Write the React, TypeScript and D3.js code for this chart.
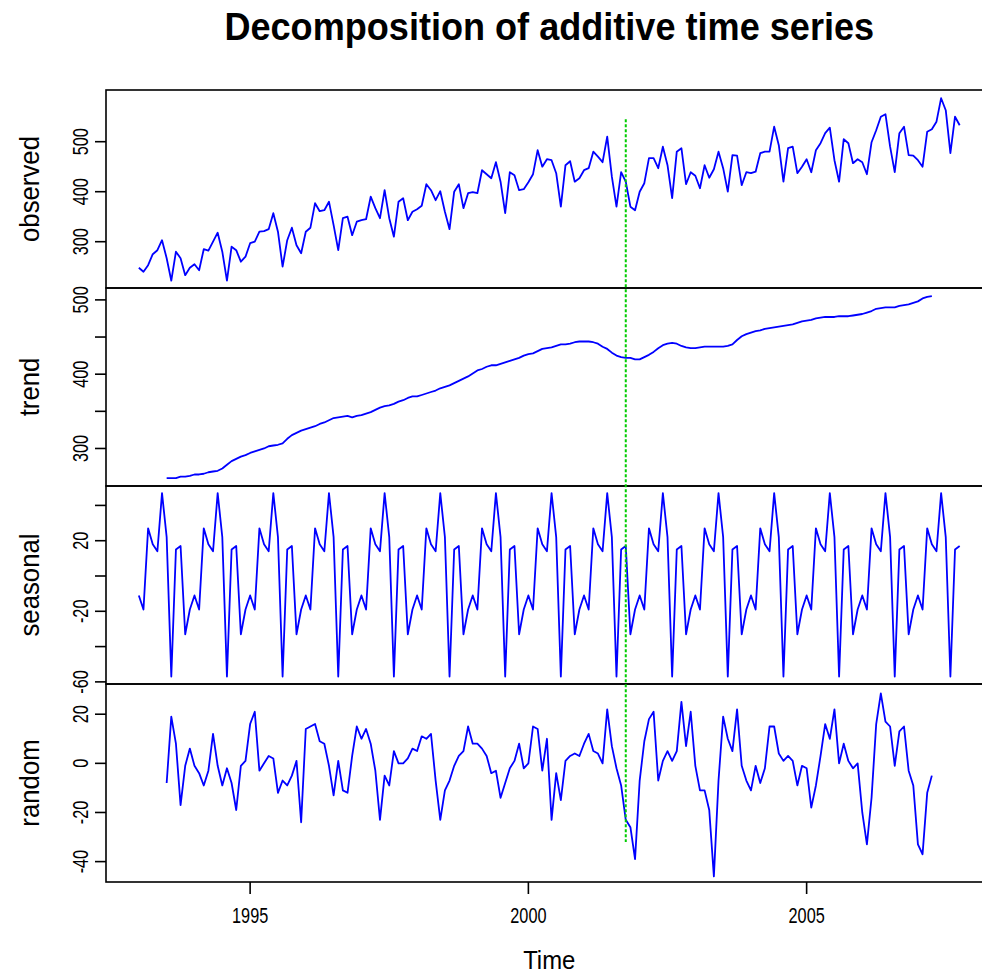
import * as d3 from 'd3'

// Monthly series, January 1993 onwards
const startYear = 1993
const frequency = 12
const chartTitle = 'Decomposition of additive time series'
const xLabel = 'Time'

const observed = [
  248, 240, 253, 275, 283, 303, 267, 222, 280, 267, 233, 248,
  255, 243, 285, 282, 300, 318, 280, 222, 290, 283, 260, 270,
  297, 300, 320, 321, 325, 357, 320, 250, 303, 328, 293, 277,
  320, 328, 377, 361, 363, 380, 333, 283, 347, 350, 313, 340,
  343, 345, 390, 367, 347, 403, 347, 310, 380, 387, 343, 360,
  365, 372, 415, 403, 383, 401, 360, 325, 400, 415, 367, 397,
  399, 397, 443, 435, 427, 459, 420, 357, 439, 433, 403, 405,
  419, 435, 483, 450, 465, 463, 437, 370, 453, 461, 420, 427,
  443, 447, 480, 470, 459, 510, 430, 370, 439, 420, 370, 363,
  400, 417, 467, 467, 447, 490, 453, 387, 480, 487, 415, 439,
  432, 407, 453, 428, 445, 480, 447, 400, 473, 472, 413, 439,
  437, 440, 477, 480, 480, 530, 493, 420, 487, 490, 437, 450,
  465, 439, 483, 497, 517, 528, 463, 420, 505, 497, 457, 465,
  459, 435, 499, 523, 550, 555, 490, 439, 517, 530, 473, 472,
  463, 450, 520, 525, 540, 587, 563, 477, 550, 533,
]

// trend and random are missing for the first and last six months
const componentStart = 6

const trend = [
  260, 260, 260, 262, 262, 263,
  265, 265, 266, 268, 269, 270, 273, 278, 283, 286, 289, 291,
  294, 296, 298, 300, 303, 304, 305, 307, 313, 318, 321, 324,
  326, 328, 330, 333, 335, 338, 341, 342, 343, 344, 342, 344,
  345, 347, 349, 352, 355, 357, 358, 360, 363, 365, 368, 370,
  370, 372, 374, 376, 378, 381, 383, 385, 388, 391, 394, 397,
  401, 405, 407, 410, 412, 412, 414, 416, 418, 420, 422, 425,
  427, 428, 431, 434, 435, 436, 438, 440, 440, 441, 443, 444,
  444, 444, 443, 441, 437, 434, 429, 425, 423, 422, 422, 420,
  420, 423, 426, 430, 435, 439, 441, 442, 441, 438, 436, 435,
  435, 436, 437, 437, 437, 437, 437, 438, 440, 446, 451, 454,
  456, 458, 459, 461, 462, 463, 464, 465, 466, 467, 469, 471,
  472, 473, 475, 476, 477, 477, 477, 478, 478, 478, 479, 480,
  481, 483, 485, 488, 489, 490, 490, 490, 492, 493, 494, 496,
  498, 502, 504, 505,
]

// seasonal figure, January to December
const seasonalFigure = [-11, -19, 27, 18, 14, 47, 22, -57, 15, 17, -33, -19]

const random = [
  -8, 19, 8, -17, -1, 6,
  -1, -4, -9, -3, 12, -1, -9, -2, -8, -19, -1, 1,
  16, 21, -3, 0, 3, 2, -12, -7, -9, -5, 1, -24,
  14, 15, 16, 9, 8, -1, -13, 1, -11, -12, 3, 15,
  10, 14, 8, -3, -23, -5, -9, 5, 0, 0, 2, 6,
  5, 11, 10, 12, -7, -23, -11, -7, -1, 3, 5, 15,
  8, 8, 6, 3, -4, -3, -14, -8, -2, 1, 8, -2,
  0, 15, 14, -3, 10, -23, -4, -15, 1, 3, 4, 3,
  8, 12, 5, 4, 0, 22, 7, -2, -9, -23, -26, -39,
  -7, 9, 18, 21, -7, 1, 5, 1, 5, 25, 7, 21,
  -1, -11, -11, -19, -46, -7, 19, 10, 5, 22, -1, -7,
  -11, -1, -8, -2, 15, 15, 4, 1, 3, 1, -9, -1,
  -2, -18, -9, 3, 16, 10, 22, 0, 8, 1, -2, 0,
  -20, -33, -14, 16, 28.5, 17, 15, -1, 13, 15, -3, -9,
  -33, -37, -12, -5,
]

const xTicks = [1995, 2000, 2005]
const observedTicks = [300, 400, 500]
const trendTicks = [300, 350, 400, 450, 500]
const trendLabels = [300, 400, 500]
const seasonalTicks = [-60, -40, -20, 0, 20, 40]
const seasonalLabels = [-60, -20, 20]
const randomTicks = [-40, -20, 0, 20]

// dotted marker drawn across the panels
const markYear = 2001.75
const markTop = 545 // on the observed scale
const markBottom = -32 // on the random scale

const W = 982
const H = 977
const plotLeft = 106
const plotRight = 992.5
const plotTop = 90
const panelH = 198
const font = 'Liberation Sans, Arial, Helvetica, sans-serif'

type Point = { t: number; v: number }

const toSeries = (values: number[], offset: number): Point[] =>
  values.map((v, i) => ({ t: startYear + (offset + i) / frequency, v }))

const seasonal = observed.map((_, i) => seasonalFigure[i % frequency])

const panels = [
  { name: 'observed', data: toSeries(observed, 0), domain: [207.4, 603.4], ticks: observedTicks, labels: observedTicks },
  { name: 'trend', data: toSeries(trend, componentStart), domain: [249.5, 516], ticks: trendTicks, labels: trendLabels },
  { name: 'seasonal', data: toSeries(seasonal, 0), domain: [-61.2, 51], ticks: seasonalTicks, labels: seasonalLabels },
  { name: 'random', data: toSeries(random, componentStart), domain: [-48.3, 32.3], ticks: randomTicks, labels: randomTicks },
]

export default function App() {
  const x = d3.scaleLinear().domain([1992.41, 2008.34]).range([plotLeft, plotRight])

  const scales = panels.map((p, i) =>
    d3.scaleLinear().domain(p.domain).range([plotTop + (i + 1) * panelH, plotTop + i * panelH])
  )

  const bottom = plotTop + panels.length * panelH
  const xMid = (plotLeft + plotRight) / 2

  return (
    <svg
      width={W}
      height={H}
      style={{ position: 'absolute', left: 0, top: 0, background: '#fff' }}
      fontFamily={font}
    >
      <rect width={W} height={H} fill="#fff" />
      <text
        transform={`translate(${xMid},40) scale(0.95,1)`}
        textAnchor="middle"
        fontSize={38}
        fontWeight="bold"
        fill="#000"
      >
        {chartTitle}
      </text>

      {panels.map((p, i) => {
        const y = scales[i]
        const line = d3
          .line<Point>()
          .x((d) => x(d.t))
          .y((d) => y(d.v))
        const top = plotTop + i * panelH
        return (
          <g key={p.name}>
            <path d={line(p.data) ?? ''} fill="none" stroke="#0000ff" strokeWidth={1.8} strokeLinejoin="round" />
            <rect x={plotLeft} y={top} width={plotRight - plotLeft} height={panelH} fill="none" stroke="#000" strokeWidth={1.6} />
            {p.ticks.map((t) => (
              <line key={t} x1={plotLeft - 11} x2={plotLeft} y1={y(t)} y2={y(t)} stroke="#000" strokeWidth={1.6} />
            ))}
            {p.labels.map((t) => (
              <text
                key={t}
                transform={`translate(${plotLeft - 18},${y(t)}) rotate(-90) scale(0.74,1)`}
                textAnchor="middle"
                fontSize={22}
                fill="#000"
              >
                {t}
              </text>
            ))}
            <text
              transform={`translate(39,${top + panelH / 2}) rotate(-90) scale(0.92,1)`}
              textAnchor="middle"
              fontSize={28}
              fill="#000"
            >
              {p.name}
            </text>
          </g>
        )
      })}

      <line
        x1={x(markYear)}
        x2={x(markYear)}
        y1={scales[0](markTop)}
        y2={scales[3](markBottom)}
        stroke="#00cc00"
        strokeWidth={2}
        strokeDasharray="3,2"
      />

      {xTicks.map((t) => (
        <g key={t}>
          <line x1={x(t)} x2={x(t)} y1={bottom} y2={bottom + 12} stroke="#000" strokeWidth={1.6} />
          <text
            transform={`translate(${x(t)},${bottom + 41}) scale(0.74,1)`}
            textAnchor="middle"
            fontSize={22}
            fill="#000"
          >
            {t}
          </text>
        </g>
      ))}
      <text
        transform={`translate(${xMid},969) scale(0.92,1)`}
        textAnchor="middle"
        fontSize={26}
        fill="#000"
      >
        {xLabel}
      </text>
    </svg>
  )
}
